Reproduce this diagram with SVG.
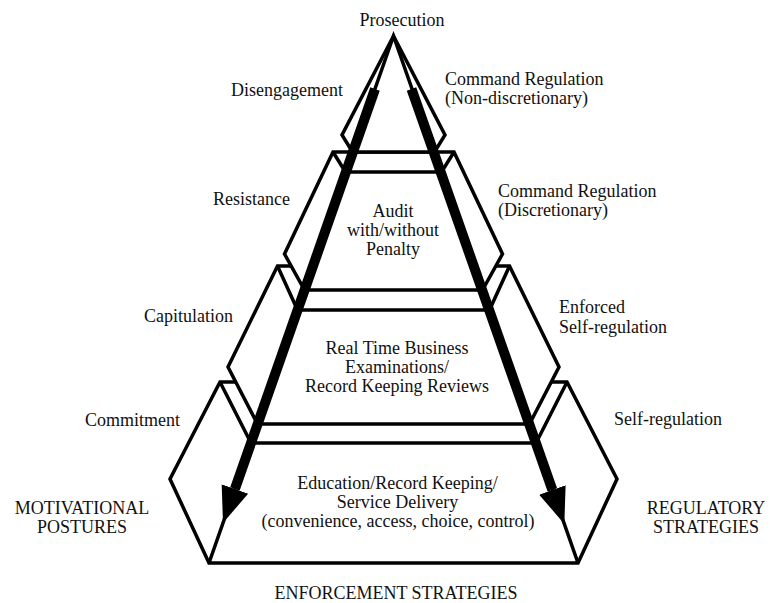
<svg xmlns="http://www.w3.org/2000/svg" width="770" height="603" viewBox="0 0 770 603">
  <defs>
    <style>
      .layer { fill: #ffffff; stroke: #000000; stroke-width: 3.5; stroke-linejoin: miter; }
      .ln { fill: none; stroke: #000000; stroke-width: 3.5; stroke-linecap: butt; }
      .edge { fill: none; stroke: #000000; stroke-width: 3.5; }
      .arrow { fill: none; stroke: #000000; stroke-width: 10; stroke-linecap: butt; }
      text { font-family: "Liberation Serif", "Times New Roman", serif; font-size: 18px; fill: #111111; }
      .mid { text-anchor: middle; }
      .end { text-anchor: end; }
    </style>
    <marker id="head" markerUnits="userSpaceOnUse" markerWidth="38" markerHeight="30" viewBox="0 0 38 30" refX="0" refY="15" orient="auto">
      <path d="M0,1 L36,15 L0,29 z" fill="#000000"/>
    </marker>
  </defs>
  <rect x="0" y="0" width="770" height="603" fill="#ffffff"/>

  <g id="layer-education">
    <polygon class="layer" points="220,382 567,382 617,479 578,563 209,563 170,479"/>
    <path class="ln" d="M220,382 L251,443 M567,382 L536,443 M251,443 L536,443"/>
    <text class="mid" x="397.5" y="489">Education/Record Keeping/</text>
    <text class="mid" x="397.5" y="507.5">Service Delivery</text>
    <text class="mid" x="398" y="526.5">(convenience, access, choice, control)</text>
    <text class="end" x="180" y="426">Commitment</text>
    <text x="614" y="425">Self-regulation</text>
  </g>

  <g id="layer-examinations">
    <polygon class="layer" points="277.5,266 509.5,266 559,367 529.5,424 257.5,424 228,367"/>
    <path class="ln" d="M277.5,266 L297.5,310 M509.5,266 L489.5,310 M297.5,310 L489.5,310"/>
    <text class="mid" x="397" y="353.5">Real Time Business</text>
    <text class="mid" x="397" y="372.5">Examinations/</text>
    <text class="mid" x="397" y="392">Record Keeping Reviews</text>
    <text class="end" x="233" y="322">Capitulation</text>
    <text x="559" y="313">Enforced</text>
    <text x="559" y="332.5">Self-regulation</text>
  </g>

  <g id="layer-audit">
    <polygon class="layer" points="333,152 454,152 502.5,254 482.5,290 304.5,290 284.5,254"/>
    <path class="ln" d="M333,152 L345.5,172 M454,152 L441.5,172 M345.5,172 L441.5,172"/>
    <text class="mid" x="393" y="217">Audit</text>
    <text class="mid" x="393" y="236">with/without</text>
    <text class="mid" x="393" y="255">Penalty</text>
    <text class="end" x="290" y="205">Resistance</text>
    <text x="498" y="196.5">Command Regulation</text>
    <text x="498" y="215.5">(Discretionary)</text>
  </g>

  <g id="layer-prosecution">
    <polygon class="layer" points="393.5,36 342,135 352.5,152 434.5,152 445,135"/>
    <text class="mid" x="402" y="26">Prosecution</text>
    <text class="end" x="343" y="96">Disengagement</text>
    <text x="445" y="85">Command Regulation</text>
    <text x="445" y="104">(Non-discretionary)</text>
  </g>

  <g id="pyramid-edges">
    <path class="edge" d="M209,563 L393.5,36 L578,563"/>
  </g>

  <g id="connectors">
    <line class="arrow" x1="375" y1="89" x2="234.9" y2="489" marker-end="url(#head)"/>
    <line class="arrow" x1="411.5" y1="89" x2="552.4" y2="490" marker-end="url(#head)"/>
  </g>

  <g id="axis-labels">
    <text class="mid" x="82" y="514">MOTIVATIONAL</text>
    <text class="mid" x="82" y="532.5">POSTURES</text>
    <text class="mid" x="706" y="514">REGULATORY</text>
    <text class="mid" x="706" y="532.5">STRATEGIES</text>
    <text class="mid" x="396" y="598.5">ENFORCEMENT STRATEGIES</text>
  </g>
</svg>
